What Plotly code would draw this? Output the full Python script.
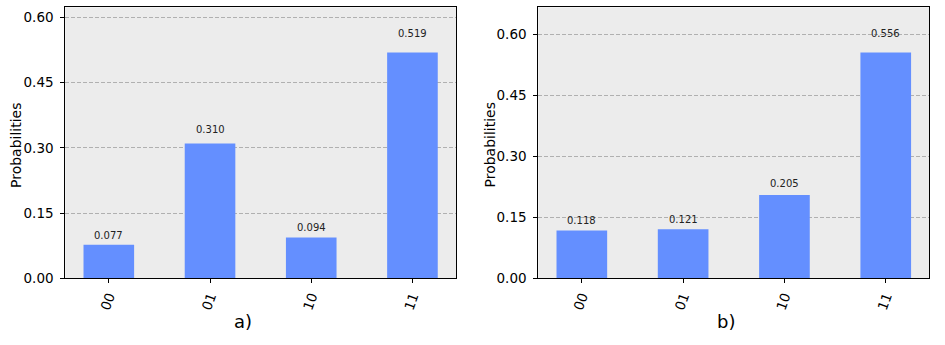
import plotly.graph_objects as go
from plotly.subplots import make_subplots

states = ['00', '01', '10', '11']
probs_a = [0.077, 0.310, 0.094, 0.519]
probs_b = [0.118, 0.121, 0.205, 0.556]
panel_labels = ['a)', 'b)']

BAR = '#648fff'
BG = '#ececec'
FONT = 'DejaVu Sans'

fig = make_subplots(rows=1, cols=2)

for col, probs in enumerate([probs_a, probs_b], start=1):
    fig.add_trace(go.Bar(x=list(range(len(states))), y=probs, width=0.5,
                         marker=dict(color=BAR, line=dict(width=0)),
                         showlegend=False, hoverinfo='skip'),
                  row=1, col=col)
    xref = 'x' if col == 1 else 'x2'
    yref = 'y' if col == 1 else 'y2'
    # value labels sit just above each bar (5% of its height)
    for i, p in enumerate(probs):
        fig.add_annotation(x=i, y=p * 1.05, xref=xref, yref=yref,
                           text='%.3f' % p, showarrow=False, yanchor='bottom',
                           font=dict(size=10, color='#222222', family=FONT))

axis_common = dict(showline=True, linecolor='black', linewidth=1, mirror=True,
                   ticks='outside', ticklen=4, tickcolor='black', automargin=False,
                   tickfont=dict(size=13.5, family=FONT, color='black'))

fig.update_xaxes(**axis_common, tickvals=list(range(len(states))), ticktext=states,
                 tickangle=-70, range=[-0.43, 3.43], showgrid=False, zeroline=False)
fig.update_yaxes(**axis_common, dtick=0.15, tickformat='.2f', showgrid=True,
                 ticklabelstandoff=4,
                 gridcolor='#b0b0b0', griddash='4px,2px', gridwidth=0.8, zeroline=False)

fig.update_layout(
    xaxis=dict(domain=[0.0691, 0.4825]),
    xaxis2=dict(domain=[0.5696, 0.9834]),
    yaxis=dict(domain=[0.1933, 0.9788], range=[0, max(probs_a) * 1.2]),
    yaxis2=dict(domain=[0.1933, 0.9788], range=[0, max(probs_b) * 1.2]),
    plot_bgcolor=BG, paper_bgcolor='white',
    width=945, height=345, margin=dict(l=0, r=0, t=0, b=0, pad=0),
    font=dict(family=FONT),
)

# y axis titles and panel captions
for xpos, txt in [(16 / 945, 'Probabilities'), (489.5 / 945, 'Probabilities')]:
    fig.add_annotation(x=xpos, y=1 - 145 / 345, xref='paper', yref='paper',
                       text=txt, textangle=-90, showarrow=False,
                       xanchor='center', yanchor='middle',
                       font=dict(size=14, family=FONT, color='black'))
for xpos, txt in [(242.5 / 945, panel_labels[0]), (726 / 945, panel_labels[1])]:
    fig.add_annotation(x=xpos, y=1 - 321.5 / 345, xref='paper', yref='paper',
                       text=txt, showarrow=False, xanchor='center', yanchor='middle',
                       font=dict(size=18, family=FONT, color='black'))

fig.write_html('out.html', config={'displayModeBar': False},
               post_script="document.body.style.margin='0';")
